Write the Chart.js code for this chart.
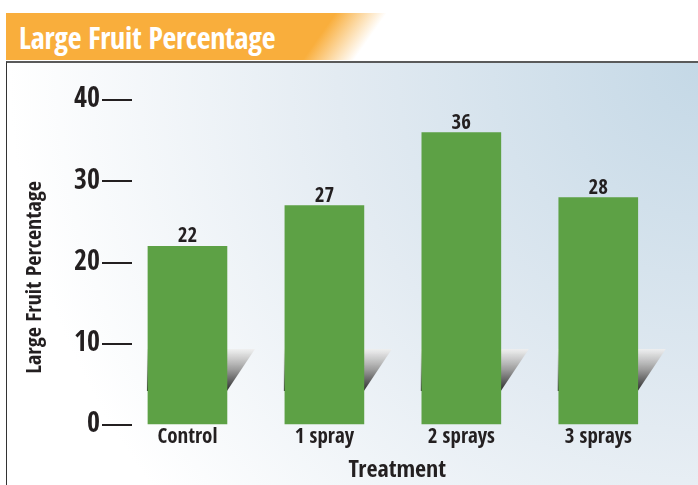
<!DOCTYPE html>
<html><head><meta charset="utf-8">
<script src="https://cdn.jsdelivr.net/npm/chart.js@4.4.1/dist/chart.umd.min.js"></script>
<style>
html,body{margin:0;padding:0;background:#fff;width:698px;height:485px;overflow:hidden;}
#band{position:absolute;left:6px;top:13px;width:420px;height:47px;background:linear-gradient(125deg,#f9ae3c 0px,#f9ae3c 270px,#ffffff 312px);}
#title{position:absolute;left:19px;top:20px;color:#fff;font-weight:bold;font-size:30px;letter-spacing:-0.3px;font-family:"Open Sans Condensed","Roboto Condensed",sans-serif;line-height:1.2;white-space:nowrap;}
#panel{position:absolute;left:6px;top:61px;width:700px;height:430px;border-top:2px solid #5a5a5a;border-left:1.5px solid #333;background:radial-gradient(circle farthest-corner at 100% 0%, #c4d8e6 0%, #e3ebf2 45%, #ffffff 85%);}
#c{position:absolute;left:0;top:0;}
</style></head>
<body>
<div id="band"></div>
<div id="title">Large Fruit Percentage</div>
<div id="panel"></div>
<canvas id="c" width="698" height="485"></canvas>
<script>
const categories = ['Control', '1 spray', '2 sprays', '3 sprays'];
const values = [22, 27, 36, 28];
const yTicks = [0, 10, 20, 30, 40];
const xTitle = 'Treatment';
const yTitle = 'Large Fruit Percentage';

const FONT = '"Open Sans Condensed","Roboto Condensed",sans-serif';
const INK = '#231f20';

const shadowPlugin = {
  id: 'barShadow',
  beforeDatasetsDraw(chart) {
    const ctx = chart.ctx;
    chart.getDatasetMeta(0).data.forEach(bar => {
      const p = bar.getProps(['x', 'width', 'base'], true);
      const L = p.x - p.width / 2, R = p.x + p.width / 2;
      const top = p.base - 75, bot = p.base - 33;
      const g = ctx.createLinearGradient(0, top, 0, bot);
      g.addColorStop(0, 'rgba(240,240,240,0.9)');
      g.addColorStop(0.5, '#9a9a9a');
      g.addColorStop(1, '#2b2b2b');
      ctx.save();
      ctx.beginPath();
      ctx.moveTo(L - 1, top);
      ctx.lineTo(R + 28, top);
      ctx.lineTo(R, bot);
      ctx.lineTo(L - 1, bot);
      ctx.closePath();
      ctx.fillStyle = g;
      ctx.fill();
      ctx.restore();
    });
  }
};

const labelPlugin = {
  id: 'barLabels',
  afterDatasetsDraw(chart) {
    const ctx = chart.ctx;
    chart.getDatasetMeta(0).data.forEach((bar, i) => {
      const p = bar.getProps(['x', 'y'], true);
      ctx.save();
      ctx.fillStyle = INK;
      ctx.font = 'bold 21px ' + FONT;
      ctx.textAlign = 'center';
      ctx.textBaseline = 'alphabetic';
      ctx.fillText(String(values[i]), p.x, p.y - 4);
      ctx.restore();
    });
  }
};

new Chart(document.getElementById('c'), {
  type: 'bar',
  data: {
    datasets: [{
      xAxisID: 'x',
      data: categories.map((c, i) => ({x: i, y: values[i]})),
      backgroundColor: '#5da145',
      borderWidth: 0,
      barThickness: 79
    }]
  },
  options: {
    responsive: false,
    animation: false,
    devicePixelRatio: 1,
    layout: {padding: {left: 0, right: 35.5, top: 100, bottom: 0}},
    plugins: {legend: {display: false}, tooltip: {enabled: false}},
    scales: {
      x: {
        type: 'linear', position: {y: 0}, min: -0.405, max: 3.469, offset: false,
        afterBuildTicks: s => { s.ticks = categories.map((c, i) => ({value: i})); },
        afterFit: s => { s.height = 0; },
        ticks: {
          callback: v => categories[v],
          color: INK, font: {family: FONT, size: 21, weight: 'bold'},
          padding: 0, maxRotation: 0, autoSkip: false
        },
        grid: {display: false, drawTicks: false},
        border: {display: false}
      },
      x2: {
        type: 'linear', axis: 'x', position: 'bottom', min: -0.405, max: 3.469,
        afterFit: s => { s.height = 30; },
        ticks: {display: false},
        grid: {display: false, drawTicks: false},
        border: {display: false},
        title: {display: true, text: xTitle, color: INK, font: {family: FONT, size: 24, weight: 'bold'}, padding: {top: 0, bottom: 0}}
      },
      y: {
        min: -3.69, max: 40,
        afterBuildTicks: s => { s.ticks = yTicks.map(v => ({value: v})); },
        afterFit: s => { s.width = 132; },
        ticks: {color: INK, font: {family: FONT, size: 28, weight: 'bold'}, padding: 2},
        grid: {drawOnChartArea: false, drawTicks: true, tickLength: 30, color: INK, lineWidth: 2},
        border: {display: false},
        title: {display: true, text: yTitle, color: INK, font: {family: FONT, size: 22, weight: 'bold'}, padding: {top: 22, bottom: 0}}
      }
    }
  },
  plugins: [shadowPlugin, labelPlugin]
});
</script>
</body></html>
